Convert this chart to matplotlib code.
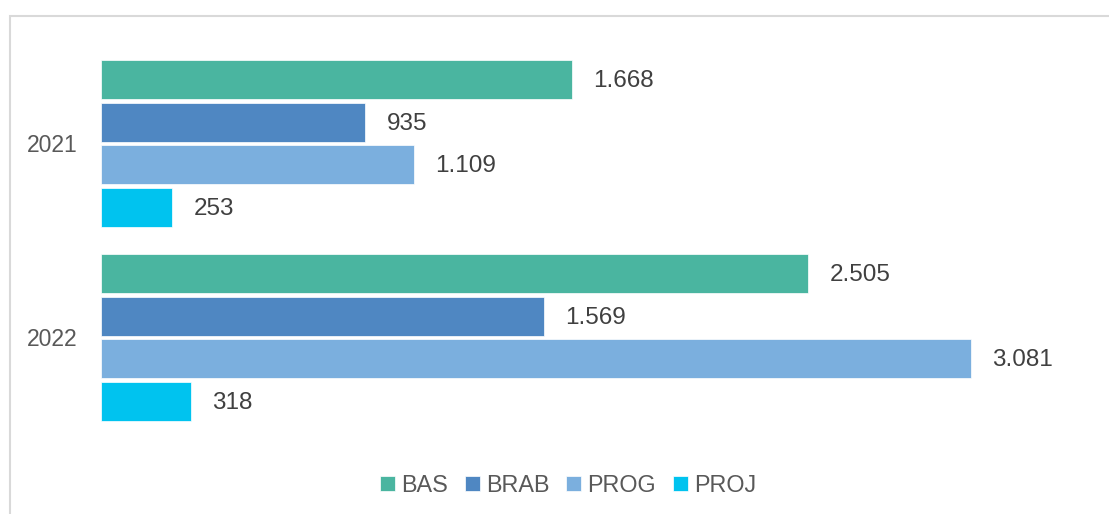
import matplotlib
matplotlib.use("Agg")
import matplotlib.pyplot as plt
from matplotlib.patches import Rectangle
import numpy as np

years = ["2021", "2022"]
series = ["BAS", "BRAB", "PROG", "PROJ"]
values = {
    "BAS": [1668, 2505],
    "BRAB": [935, 1569],
    "PROG": [1109, 3081],
    "PROJ": [253, 318],
}
colors = ["#4AB5A0", "#4F87C2", "#7BAFDE", "#00C3EF"]

plt.rcParams['font.family'] = ['Liberation Sans', 'DejaVu Sans']

fig = plt.figure(figsize=(11.09, 5.14), dpi=100)
ax = fig.add_axes([101/1109, 1-434.5/514, 988/1109, 388/514])

# light chart border (only top and left show in the reference)
fig.patches.append(Rectangle((9.5/1109, -0.1), 1.2, 1-16/514+0.1, transform=fig.transFigure,
                             fill=False, edgecolor="#d9d9d9", lw=1.5))

group_step = 4.54
bar_h = 0.91
for i, s in enumerate(series):
    ys = np.arange(len(years)) * group_step + i
    ax.barh(ys, values[s], height=bar_h, color=colors[i], label=s,
            edgecolor="white", linewidth=0.5)
    for y, v in zip(ys, values[s]):
        ax.annotate(f"{v:,}".replace(",", "."), (v, y), xytext=(15.5, -1),
                    textcoords="offset points", va="center", ha="left",
                    fontsize=17.5, color="#404040")

ax.set_xlim(0, 3500)
ax.set_ylim(-0.77, group_step * 2 - 0.77)
ax.invert_yaxis()
ax.set_yticks(np.arange(len(years)) * group_step + 1.5)
ax.set_yticklabels(years, fontsize=16.5, color="#595959")
ax.tick_params(axis="y", length=0, pad=17)
ax.set_xticks([])
for sp in ax.spines.values():
    sp.set_visible(False)

fig.legend(loc="center", bbox_to_anchor=(568/1109, 1-485/514), ncol=4, frameon=False,
           fontsize=16.8, labelcolor="#595959", handlelength=0.65, handleheight=0.65,
           handletextpad=0.25, columnspacing=0.72)

plt.savefig("out.png", dpi=100)
